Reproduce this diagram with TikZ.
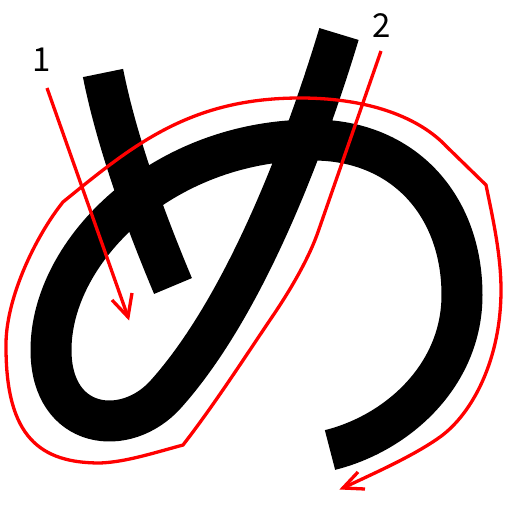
\documentclass[tikz,border=0pt]{standalone}
\usepackage{fontspec}
\newfontfamily\labfont{Noto Sans CJK JP}
\begin{document}
\begin{tikzpicture}[x=1pt,y=-1pt,
  kana/.style={line width=41pt, line cap=butt, line join=round, black},
  order/.style={red, line width=3.3pt, line cap=butt, line join=miter},
  barb/.style={red, line width=3.3pt, line cap=butt, line join=miter},
  num/.style={font=\labfont\fontsize{33}{33}\selectfont, inner sep=0pt}]
\useasboundingbox (0,0) rectangle (512,512);
\fill[white] (0,0) rectangle (512,512);
% stroke 1
\draw[kana] (103,73) .. controls (114.8,132) and (138.1,203) .. (173,286);
% stroke 2
\draw[kana] (339,34) .. controls (310,130) and (250,300) .. (166,394)
  .. controls (126,439) and (51,430) .. (51,350)
  .. controls (51,250) and (163,140) .. (313,140)
  .. controls (403,140) and (462,205) .. (462,295)
  .. controls (462,375) and (398,433) .. (330,450);
% labels
\node[num] (l1) at (41.5,60) {1};
\node[num] (l2) at (381.5,25.5) {2};
% arrow 1
\coordinate (a1s) at (47,88);
\coordinate (a1t) at (128,317);
\draw[order] (a1s) -- (a1t);
\draw[barb] (112,300) -- (a1t) -- (132,293);
% arrow 2
\coordinate (a2s) at (381,51);
\coordinate (a2t) at (343,488);
\draw[order] (a2s) -- (318,232)
  .. controls (310,255) and (294,285) .. (270,320)
  .. controls (243,360) and (214,405) .. (183,445)
  .. controls (150,454) and (125,462) .. (100,463)
  .. controls (40,463) and (6,437) .. (6,347)
  .. controls (5,300) and (35,237) .. (63,202)
  .. controls (133,145) and (190,98) .. (300,98)
  .. controls (370,98) and (420,118) .. (447,147)
  -- (486,185)
  .. controls (493,219) and (501,255) .. (501,290)
  .. controls (501,360) and (472,414) .. (440,437)
  .. controls (412,457) and (370,475) .. (a2t);
\draw[barb] (358,472) -- (a2t) -- (365,489);
\end{tikzpicture}
\end{document}
